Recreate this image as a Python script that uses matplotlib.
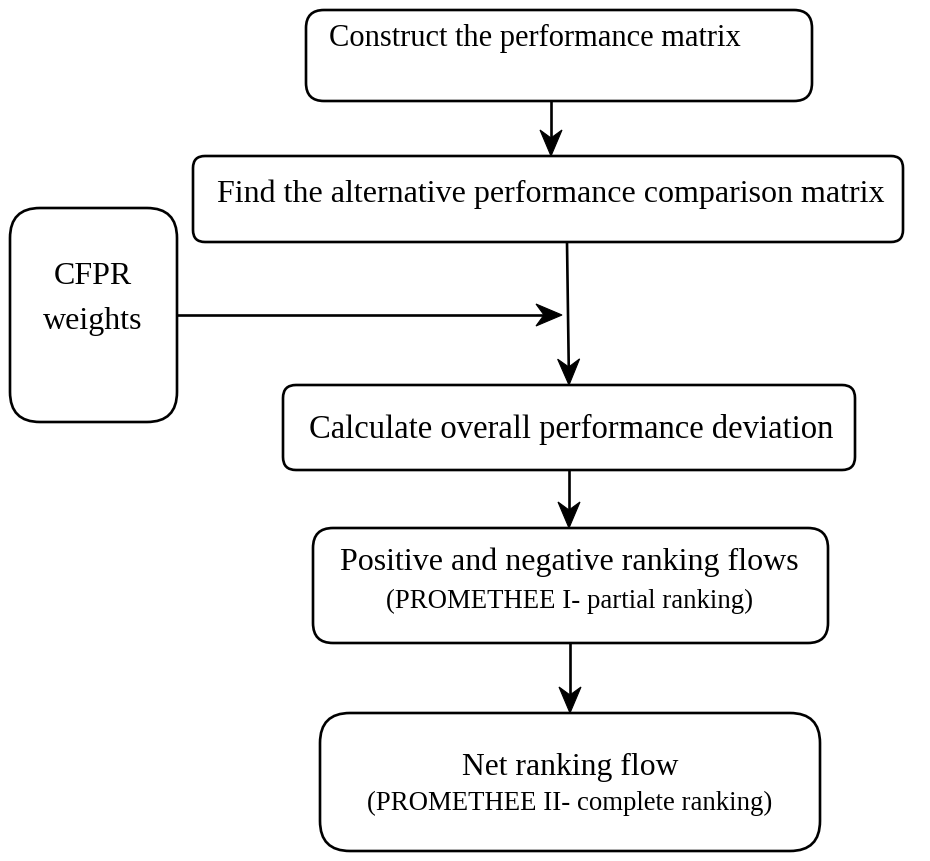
import matplotlib.pyplot as plt
from matplotlib.patches import FancyBboxPatch, Polygon

plt.rcParams['font.family'] = ['Liberation Serif', 'DejaVu Serif']

# flowchart steps: list of text lines per box
step_labels = [
    ["Construct the performance matrix"],
    ["Find the alternative performance comparison matrix"],
    ["CFPR", "weights"],
    ["Calculate overall performance deviation"],
    ["Positive and negative ranking flows", "(PROMETHEE I- partial ranking)"],
    ["Net ranking flow", "(PROMETHEE II- complete ranking)"],
]

# layout in pixels: x0, y0, x1, y1, corner radius
boxes = [
    (306, 10, 812, 101, 18),
    (193, 156, 903, 242, 12),
    (10, 208, 177, 422, 30),
    (283, 385, 855, 470, 13),
    (313, 528, 828, 643, 20),
    (320, 713, 820, 851, 30),
]
# text anchors: x, y of each line
text_pos = [
    (535, [38]),
    (551, [194]),
    (93, [276, 322]),
    (571, [429]),
    (569, [562, 601]),
    (570, [767, 803]),
]
line_sizes = [
    [22],
    [23],
    [23, 23],
    [23.5],
    [23, 19.3],
    [22.8, 19.3],
]

# arrows: start, end
arrows = [
    ((551, 101), (551, 156)),
    ((567, 242), (569, 385)),
    ((177, 315), (562, 315)),
    ((569, 470), (569, 528)),
    ((570, 643), (570, 713)),
]

fig = plt.figure(figsize=(9.3, 8.61), dpi=100)
ax = fig.add_axes([0, 0, 1, 1])
ax.set_xlim(0, 930)
ax.set_ylim(861, 0)
ax.axis('off')

lw = 1.9

for (x0, y0, x1, y1, r) in boxes:
    ax.add_patch(FancyBboxPatch((x0, y0), x1 - x0, y1 - y0,
                                boxstyle="round,pad=0,rounding_size=%d" % r,
                                fc='white', ec='black', lw=lw))

for i, lines in enumerate(step_labels):
    x, ys = text_pos[i]
    for txt, y, fs in zip(lines, ys, line_sizes[i]):
        ax.text(x, y, txt, ha='center', va='center', fontsize=fs)


def draw_arrow(p0, p1, hl=26, hw=11, notch=8):
    (x0, y0), (x1, y1) = p0, p1
    dx, dy = x1 - x0, y1 - y0
    d = (dx ** 2 + dy ** 2) ** 0.5
    ux, uy = dx / d, dy / d
    nx, ny = -uy, ux
    bx, by = x1 - ux * hl, y1 - uy * hl
    ax.plot([x0, x1 - ux * (hl - notch)], [y0, y1 - uy * (hl - notch)],
            color='black', lw=lw, solid_capstyle='butt')
    head = [(x1, y1),
            (bx + nx * hw, by + ny * hw),
            (x1 - ux * (hl - notch), y1 - uy * (hl - notch)),
            (bx - nx * hw, by - ny * hw)]
    ax.add_patch(Polygon(head, closed=True, fc='black', ec='black', lw=0.8))


for p0, p1 in arrows:
    draw_arrow(p0, p1)

plt.savefig("out.png", dpi=100)
